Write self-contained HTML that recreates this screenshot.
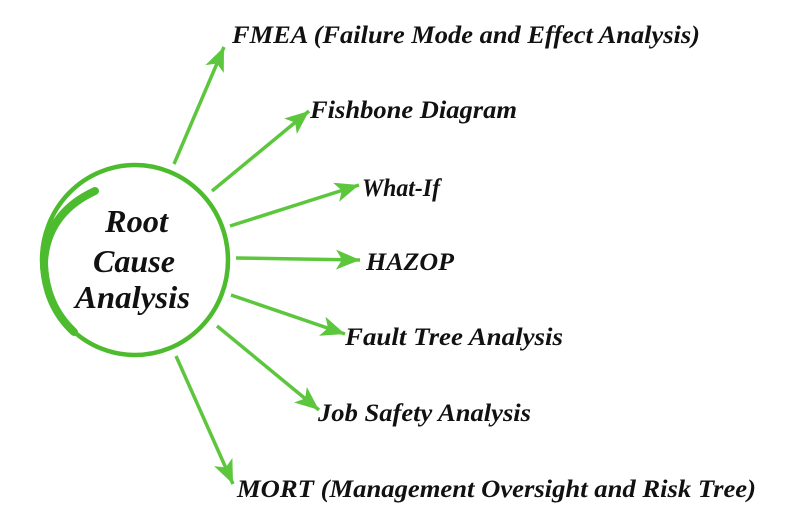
<!DOCTYPE html>
<html><head><meta charset="utf-8"><style>
html,body{margin:0;padding:0;background:#fff;width:800px;height:531px;overflow:hidden}
text{font-family:"Liberation Serif","DejaVu Serif",serif;font-style:italic;font-weight:bold;fill:#111}
</style></head><body>
<svg width="800" height="531" viewBox="0 0 800 531" xmlns="http://www.w3.org/2000/svg">
<defs>
<marker id="a" markerUnits="userSpaceOnUse" markerWidth="28" markerHeight="22" refX="24" refY="11" orient="auto">
<path d="M0,1 L24,11 L0,21 L6,11 Z" fill="#5cc63c"/>
</marker>
</defs>
<g fill="none" stroke="#4dbb2e" stroke-linecap="round">
<ellipse cx="135" cy="260" rx="93" ry="95" stroke-width="4.5"/>
<path d="M 95 191 Q 47 213 44 262 Q 45 305 74 332" stroke-width="8"/>
</g>
<g stroke="#5cc63c" stroke-width="3.5" marker-end="url(#a)">
<line x1="174" y1="164" x2="224" y2="47"/>
<line x1="212" y1="191" x2="309" y2="111"/>
<line x1="230" y1="226" x2="359" y2="185"/>
<line x1="236" y1="258" x2="360" y2="260"/>
<line x1="231" y1="295" x2="345" y2="334"/>
<line x1="217" y1="326" x2="319" y2="410"/>
<line x1="176" y1="356" x2="233" y2="484"/>
</g>
<g font-size="32">
<text x="105" y="232" textLength="63" lengthAdjust="spacingAndGlyphs">Root</text>
<text x="93" y="272" textLength="82" lengthAdjust="spacingAndGlyphs">Cause</text>
<text x="75" y="308" textLength="115" lengthAdjust="spacingAndGlyphs">Analysis</text>
</g>
<g font-size="25">
<text x="232" y="43" textLength="468" lengthAdjust="spacingAndGlyphs">FMEA (Failure Mode and Effect Analysis)</text>
<text x="310" y="118" textLength="207" lengthAdjust="spacingAndGlyphs">Fishbone Diagram</text>
<text x="362" y="196" textLength="78" lengthAdjust="spacingAndGlyphs">What-If</text>
<text x="366" y="270" textLength="88" lengthAdjust="spacingAndGlyphs">HAZOP</text>
<text x="345" y="345" textLength="218" lengthAdjust="spacingAndGlyphs">Fault Tree Analysis</text>
<text x="318" y="421" textLength="213" lengthAdjust="spacingAndGlyphs">Job Safety Analysis</text>
<text x="237" y="497" textLength="519" lengthAdjust="spacingAndGlyphs">MORT (Management Oversight and Risk Tree)</text>
</g>
</svg>
</body></html>
